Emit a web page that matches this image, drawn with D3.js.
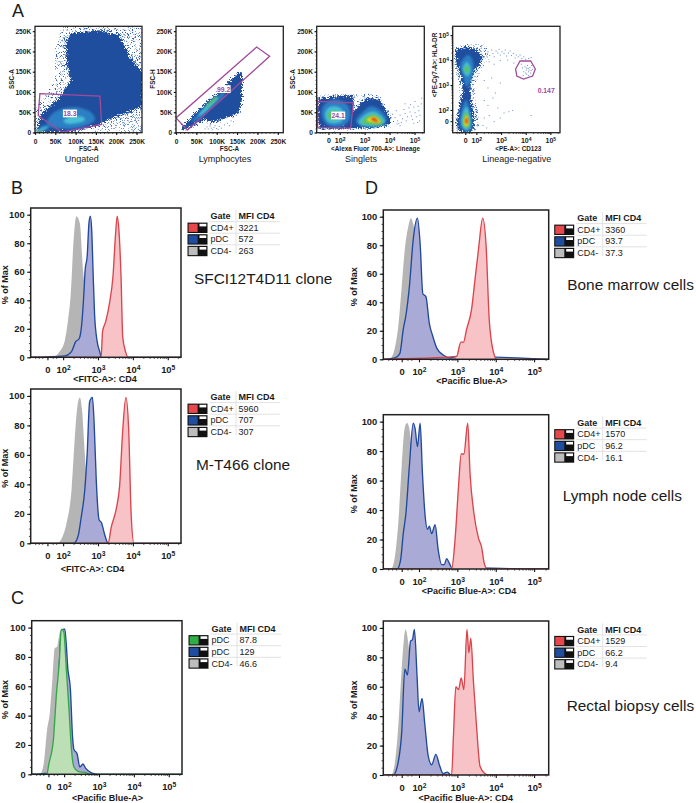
<!DOCTYPE html>
<html><head><meta charset="utf-8">
<script src="https://cdn.jsdelivr.net/npm/d3@7"></script>
<style>
html,body{margin:0;padding:0;background:#fff}
svg{display:block}
text{font-family:"Liberation Sans",Arial,sans-serif;fill:#1a1a1a}
</style></head><body><svg id="c" width="696" height="803"></svg>
<script>
// ---------- histogram data: [log10 intensity, % of max] ----------
const b1Gray=[[1.76,0],[1.90,4],[2.05,12],[2.14,26],[2.22,45],[2.30,82],[2.38,99],[2.48,94],[2.57,61],[2.67,40],[2.86,0]];
const b1Blue=[[2.05,1],[2.24,4],[2.36,11],[2.46,13],[2.54,25],[2.60,47],[2.63,61],[2.69,71],[2.74,94],[2.78,99],[2.82,89],[2.86,59],[2.90,31],[2.97,12],[3.05,4],[3.10,0]];
const b1Red=[[3.09,0],[3.13,18],[3.22,25],[3.33,38],[3.43,57],[3.50,85],[3.55,99],[3.60,89],[3.66,57],[3.71,14],[3.79,4],[3.86,0]];
const b2Gray=[[1.83,0],[1.95,3],[2.10,14],[2.24,36],[2.33,70],[2.41,93],[2.48,99],[2.54,91],[2.62,61],[2.71,30],[2.86,0]];
const b2Blue=[[2.30,0],[2.43,5],[2.52,18],[2.62,36],[2.69,61],[2.76,96],[2.84,99],[2.89,81],[2.95,43],[3.03,16],[3.10,14],[3.19,6],[3.29,0]];
const b2Red=[[3.29,0],[3.38,11],[3.52,23],[3.62,39],[3.71,77],[3.80,99],[3.88,77],[3.95,20],[4.03,0]];
const cGray=[[1.32,0],[1.42,8],[1.51,30],[1.59,42],[1.67,67],[1.73,86],[1.80,87],[1.88,97],[1.95,98],[2.07,50],[2.21,0]];
const cBlue=[[1.59,1],[1.73,21],[1.83,58],[1.92,98],[1.99,99],[2.02,99],[2.11,71],[2.18,58],[2.24,26],[2.28,17],[2.37,14],[2.45,5],[2.54,7],[2.62,4],[2.78,1],[2.97,0]];
const cGreen=[[1.50,0],[1.57,8],[1.69,23],[1.78,55],[1.86,76],[1.92,99],[1.99,97],[2.07,69],[2.14,44],[2.21,17],[2.28,5],[2.40,2],[2.64,1],[2.73,0]];
const d1Gray=[[1.24,0],[1.37,8],[1.46,23],[1.55,51],[1.63,77],[1.72,93],[1.79,99],[1.85,95],[1.92,84],[2.03,51],[2.20,0]];
const d1Blue=[[1.37,1],[1.50,4],[1.59,21],[1.66,31],[1.75,51],[1.85,84],[1.96,99],[2.03,81],[2.10,46],[2.18,44],[2.27,25],[2.35,17],[2.46,8],[2.63,3],[2.81,1],[2.98,2]];
const d1Red=[[2.98,2],[3.09,12],[3.16,12],[3.24,21],[3.37,35],[3.46,56],[3.55,77],[3.66,99],[3.75,79],[3.83,28],[3.94,5],[4.03,0]];
const d2Gray=[[1.29,0],[1.37,8],[1.46,31],[1.55,70],[1.63,96],[1.69,99],[1.75,95],[1.81,77],[1.90,31],[2.03,0]];
const d2Blue=[[1.43,0],[1.52,6],[1.59,24],[1.66,38],[1.75,70],[1.85,99],[1.90,95],[1.96,83],[2.03,99],[2.09,65],[2.16,36],[2.22,27],[2.27,29],[2.33,24],[2.42,30],[2.50,13],[2.59,3],[2.66,3],[2.72,7],[2.79,4],[2.85,1]];
const d2Red=[[2.85,0],[2.94,20],[3.03,56],[3.10,78],[3.17,78],[3.27,99],[3.33,65],[3.43,38],[3.55,21],[3.63,15],[3.70,4],[3.78,0]];
const d3Gray=[[1.29,0],[1.37,8],[1.46,33],[1.55,72],[1.65,99],[1.72,90],[1.78,72],[1.87,29],[2.03,0]];
const d3Blue=[[1.33,0],[1.46,9],[1.55,29],[1.63,72],[1.70,68],[1.78,91],[1.83,92],[1.88,99],[1.95,67],[2.00,43],[2.08,52],[2.15,35],[2.24,13],[2.33,7],[2.44,14],[2.53,7],[2.63,1],[2.74,2],[2.83,0]];
const d3Red=[[2.85,0],[2.90,28],[2.96,60],[3.03,58],[3.10,66],[3.17,58],[3.25,99],[3.30,83],[3.35,93],[3.42,63],[3.50,33],[3.59,6],[3.72,1],[3.81,0]];

// ---------- legend tables ----------
const legendHeader=["Gate","MFI CD4"];
const gatesStd=["CD4+","pDC","CD4-"];
const gatesC=["pDC","pDC","CD4-"];
const mfiB1=["3221","572","263"], mfiB2=["5960","707","307"], mfiC=["87.8","129","46.6"];
const mfiD1=["3360","93.7","37.3"], mfiD2=["1570","96.2","16.1"], mfiD3=["1529","66.2","9.4"];

// ---------- axis ticks ----------
const pctTicks=[0,20,40,60,80,100];
const pctMinor=d3.range(0,105,5);
const kTicks=[0,50,100,150,200,250];
const kMinor=d3.range(0,260,10);
const decTicks=[1.55,2,3,4,5];               // "0", 10^2 ... 10^5 in decade units
const decMinor=[1.2,1.3,1.4,1.7,1.8,2.3,2.48,2.6,2.7,2.78,2.85,2.9,2.95,3.3,3.48,3.6,3.7,3.78,3.85,3.9,3.95,4.3,4.48,4.6,4.7,4.78,4.85,4.9,4.95,5.3];

// ---------- scatter density regions ----------
// panel 1 FSC-A (K) / SSC-A (K)
const p1Halo=[[0,0],[0,57],[29,98],[49,130],[49,204],[66,262],[265,264],[265,1],[185,1],[152,11],[70,1]];
const p1LowHalo=[[120,1],[185,16],[265,50],[265,1]];
const p1Dense=[[6,2],[8,24],[16,44],[37,66],[66,93],[88,130],[78,171],[76,221],[88,245],[160,252],[208,240],[232,188],[265,150],[265,66],[225,48],[185,34],[156,17],[111,6],[70,1]];
const p1Mid=[[29,20],[45,48],[90,63],[135,52],[148,32],[119,15],[70,9]];
const p1Cyan=[[70,28],[86,38],[119,38],[123,30],[98,22],[78,22]];
const p1CornerMid=[[2,0],[20,17],[37,16],[20,3]];
const p1CornerCyan=[[6,3],[20,12],[33,14],[19,5]];
const p1CornerGreen=[[4,2],[14,7],[16,5]];
const p1Gate=[[12,96],[160,90],[164,20],[66,1],[8,42]];
// panel 2 FSC-A (K) / FSC-H (K)
const p2Dense=[[10,6],[39,39],[75,75],[125,116],[125,121],[157,151],[162,145],[162,81],[156,48],[125,36],[92,25],[67,30],[43,17],[20,6]];
const p2Mid=[[39,28],[92,78],[116,100],[119,94],[84,60],[51,30]];
const p2Cyan=[[55,42],[100,88],[103,86],[60,42]];
const p2Green=[[70,60],[100,89],[102,87],[75,62]];
const p2Gate=[[0,36],[198,211],[230,188],[28,6]];
const p2Dots=[[75,15],[78,10],[82,17],[85,12],[88,8],[92,14],[95,18],[98,11],[102,9],[105,16],[110,12],[84,20],[70,10],[118,20],[125,24],[130,18],[140,28],[134,30]];
// panel 3 lineage (decades) / SSC-A (K)
const p3Halo=[[2.55,93],[3.08,96],[3.61,91],[4.08,44],[4.21,22],[3.08,6],[2.7,12]];
const p3Left=[[1.15,85],[2.55,93],[2.57,57],[2.75,17],[2.95,11],[1.21,9],[1.11,40]];
const p3LeftHalo=[[1.09,92],[2.55,97],[2.9,40],[3.0,6],[1.12,6]];
const p3Right=[[2.68,16],[2.57,48],[2.79,71],[3.08,85],[3.55,83],[3.88,52],[4.08,30],[3.95,17],[3.21,11]];
const p3LeftMid=[[1.28,44],[1.41,71],[1.88,81],[2.35,65],[2.41,36],[2.15,17],[1.55,17]];
const p3LeftCyan=[[1.41,44],[1.55,61],[1.95,63],[2.21,44],[2.01,25],[1.55,25]];
const p3LeftGreen=[[1.51,43],[1.64,52],[1.91,52],[2.04,40],[1.85,32],[1.61,32]];
const p3RightMid=[[2.65,28],[2.88,48],[3.28,65],[3.68,52],[3.88,30],[3.61,16],[2.88,16]];
const p3RightCyan=[[2.75,25],[3.01,44],[3.35,52],[3.68,40],[3.81,25],[3.48,17],[2.95,17]];
const p3RightGreen=[[2.88,24],[3.08,39],[3.41,44],[3.68,32],[3.72,22],[3.35,19]];
const p3RightYellow=[[3.08,30],[3.28,39],[3.48,37],[3.64,25],[3.41,24]];
const p3RightRed=[[3.24,34],[3.41,36],[3.55,25],[3.35,29]];
const p3Gate=[[1.12,77],[2.55,73],[2.44,11],[1.12,12]];
const p3Dots=[[4.1,46],[4.2,38],[4.3,30],[4.25,55],[4.4,44],[4.5,35],[4.45,26],[4.55,58],[4.6,48],[4.7,40],[4.65,30],[4.75,62],[4.8,52],[4.85,42],[4.9,33],[4.82,70],[4.95,64],[5.0,50],[5.05,40],[5.0,78],[5.12,66],[5.15,55],[5.2,44],[5.18,30],[5.25,72],[5.27,86],[5.1,26],[4.35,24],[4.95,24],[4.6,72],[4.28,22],[4.4,18]];
// panel 4 CD123 (decades) / HLA-DR (decades)
const p4Halo=[[1.07,4.5],[1.6,4.65],[2.42,4.6],[2.49,4.0],[2.15,3.5],[1.95,3.0],[1.95,2.4],[2.1,1.8],[2.1,1.13],[1.2,1.13],[1.12,1.5],[1.25,2.2],[1.3,2.9],[1.12,3.7]];
const p4Dense=[[1.14,4.40],[1.61,4.53],[2.01,4.40],[2.28,4.13],[2.15,3.87],[1.88,3.53],[1.77,3.07],[1.77,2.53],[1.88,1.87],[1.91,1.27],[1.68,1.11],[1.31,1.13],[1.20,1.47],[1.31,2.13],[1.45,2.67],[1.41,3.20],[1.20,3.87]];
const p4UpMid=[[1.36,3.87],[1.68,4.2],[1.88,3.87],[1.81,3.27],[1.61,2.93],[1.45,3.4]];
const p4UpCyan=[[1.45,3.67],[1.61,3.93],[1.77,3.67],[1.68,3.36],[1.55,3.4]];
const p4UpGreen=[[1.5,3.64],[1.61,3.77],[1.72,3.63],[1.62,3.47]];
const p4LowMid=[[1.36,1.8],[1.58,2.4],[1.77,1.8],[1.81,1.27],[1.61,1.13],[1.36,1.33]];
const p4LowCyan=[[1.42,1.73],[1.59,2.13],[1.74,1.73],[1.74,1.33],[1.58,1.2],[1.42,1.4]];
const p4LowGreen=[[1.47,1.67],[1.59,1.93],[1.7,1.63],[1.7,1.36],[1.58,1.27],[1.47,1.44]];
const p4LowYellow=[[1.51,1.63],[1.61,1.8],[1.68,1.53],[1.64,1.36],[1.54,1.36]];
const p4LowRed=[[1.55,1.6],[1.61,1.71],[1.65,1.49],[1.58,1.44]];
const p4Gate=[[3.77,3.96],[4.2,3.96],[4.39,3.64],[4.28,3.36],[3.91,3.24],[3.64,3.36],[3.59,3.64]];
const p4Dots=[[2.45,4.35],[2.52,4.2],[2.6,4.42],[2.65,4.28],[2.7,4.15],[2.78,4.38],[2.85,4.3],[2.9,4.45],[2.95,4.22],[3.02,4.35],[3.1,4.28],[3.15,4.42],[3.2,4.18],[3.28,4.3],[3.35,4.38],[3.4,4.2],[3.48,4.28],[3.55,4.1],[3.6,4.22],[3.68,4.15],[3.75,4.22],[3.82,4.08],[3.9,4.15],[3.98,4.05],[4.1,4.08],[4.2,4.12],[2.5,3.95],[2.7,3.85],[2.95,4.0],[3.25,4.02],[3.5,3.9],
[3.8,3.85],[3.85,3.7],[3.9,3.55],[3.95,3.75],[4.0,3.62],[4.02,3.45],[4.05,3.8],[4.08,3.68],[4.1,3.55],[4.12,3.62],[4.15,3.72],[4.18,3.5],[4.2,3.6],[4.22,3.8],[4.25,3.65],[3.98,3.5],[4.02,3.7],[4.1,3.4],[3.88,3.4],
[2.3,3.2],[2.45,2.9],[2.6,3.3],[2.75,2.7],[2.95,3.1],[2.3,2.4],[2.45,2.2],[2.65,2.5],[2.85,2.1],[3.1,1.9],[3.3,1.95],[3.45,2.0],[2.3,1.7],[2.5,1.8],[2.7,1.55],[2.95,1.7],[4.2,1.8],[2.25,1.4],[2.4,1.3]];

// ---------- shared helpers ----------
const svg=d3.select("#c");
const PURPLE="#a04b9c", NAVY="#1f4e9e", MID="#2c7fc4", CYAN="#48c0d6", GREEN="#5cc05e", YELLOW="#ece022", RED="#e0341a";
const defs=svg.append("defs");
const sRGB={"color-interpolation-filters":"sRGB"};
function attrs(s,o){Object.entries(o).forEach(([k,v])=>s.attr(k,v));return s;}
const fRough=attrs(defs.append("filter").attr("id","rough"),{x:"-8%",y:"-8%",width:"116%",height:"116%",...sRGB});
attrs(fRough.append("feTurbulence"),{type:"fractalNoise",baseFrequency:1.3,numOctaves:2,seed:4,result:"n"});
attrs(fRough.append("feDisplacementMap"),{in:"SourceGraphic",in2:"n",scale:9,xChannelSelector:"R",yChannelSelector:"G"});
const fSoft=attrs(defs.append("filter").attr("id","soft"),{x:"-30%",y:"-30%",width:"160%",height:"160%",...sRGB});
attrs(fSoft.append("feGaussianBlur"),{stdDeviation:1.1});
const fSpeck=attrs(defs.append("filter").attr("id","speck"),{x:"-5%",y:"-5%",width:"110%",height:"110%",...sRGB});
attrs(fSpeck.append("feTurbulence"),{type:"fractalNoise",baseFrequency:1.25,numOctaves:2,seed:9,result:"n"});
attrs(fSpeck.append("feColorMatrix"),{in:"n",type:"matrix",values:"0 0 0 0 0  0 0 0 0 0  0 0 0 0 0  7 0 0 0 -3.9",result:"m"});
attrs(fSpeck.append("feComposite"),{in:"SourceGraphic",in2:"m",operator:"in"});

const supMap={2:"2",3:"3",4:"4",5:"5"};
function decFmt(sel){
  sel.selectAll(".tick text").each(function(d){
    const t=d3.select(this); t.text("");
    if(d===decTicks[0]){t.text("0");return;}
    t.append("tspan").text("10");
    t.append("tspan").attr("dy","-0.42em").attr("font-size","72%").text(supMap[d]);
  });
}
let clipN=0;
function frame(g,w,h){
  const id="clip"+(clipN++);
  defs.append("clipPath").attr("id",id).append("rect").attr("width",w).attr("height",h);
  return id;
}
function axis(g,gen,major,minor,{fs,tl,ml,pad,bottom,h,fmt,kf}){
  const mn=g.append("g"), mj=g.append("g");
  if(bottom){mn.attr("transform",`translate(0,${h})`);mj.attr("transform",`translate(0,${h})`);}
  mn.call(gen().tickValues(minor).tickSize(ml).tickFormat(""));
  const a=gen().tickValues(major).tickSize(tl).tickPadding(pad);
  if(kf) a.tickFormat(kf);
  mj.call(a);
  mn.select(".domain").remove(); mj.select(".domain").remove();
  mn.selectAll("line").attr("stroke","#222").attr("stroke-width",.8);
  mj.selectAll("line").attr("stroke","#111").attr("stroke-width",1.1);
  mj.selectAll("text").attr("font-size",fs).attr("font-weight","bold").attr("font-family",'"Liberation Sans"').attr("fill","#1a1a1a");
  if(fmt) fmt(mj);
}

// ---------- histogram panels ----------
const xDom=[1.07,5.38], yDom=[0,104.7];
const area=(x,y)=>d3.area().x(d=>x(d[0])).y0(y(0)).y1(d=>y(d[1])).curve(d3.curveMonotoneX);
const line=(x,y)=>d3.line().x(d=>x(d[0])).y(d=>y(d[1])).curve(d3.curveMonotoneX);
function hist(cfg){
  const {l,r,t,b,series,xlabel,xlx,xly,ylx}=cfg;
  const w=r-l,h=b-t;
  const x=d3.scaleLinear().domain(xDom).range([0,w]);
  const y=d3.scaleLinear().domain(yDom).range([h,0]);
  const g=svg.append("g").attr("transform",`translate(${l},${t})`);
  const id=frame(g,w,h);
  const pg=g.append("g").attr("clip-path",`url(#${id})`);
  series.forEach(s=>{
    pg.append("path").datum(s.data).attr("d",area(x,y)).attr("fill",s.fill);
    if(s.stroke){
      const full=[[xDom[0],0],...s.data,[xDom[1],0]];
      pg.append("path").datum(full).attr("d",line(x,y)).attr("fill","none").attr("stroke",s.stroke).attr("stroke-width",1.35);
    }
  });
  g.append("rect").attr("width",w).attr("height",h).attr("fill","none").attr("stroke","#222").attr("stroke-width",1.5);
  axis(g,()=>d3.axisLeft(y),pctTicks,pctMinor,{fs:9.4,tl:3.5,ml:1.8,pad:2.5});
  axis(g,()=>d3.axisBottom(x),decTicks,decMinor,{fs:9.4,tl:3,ml:1.6,pad:6,bottom:true,h,fmt:decFmt});
  svg.append("text").attr("x",xlx).attr("y",xly).attr("text-anchor","middle").attr("font-size",9).attr("font-weight","bold").text(xlabel);
  svg.append("text").attr("transform",`translate(${ylx},${(t+b)/2+2}) rotate(-90)`).attr("text-anchor","middle").attr("font-size",9).attr("font-weight","bold").text("% of Max");
}
const GRAY={fill:"#b5b5b5"};
const BLUE={fill:"#aaaad6",stroke:"#20499b"};
const REDS={fill:"#f8c3c6",stroke:"#d9454c"};
const GRN={fill:"#bcdfb6",stroke:"#35a648"};
hist({l:30.7,r:181,t:208,b:357.3,xlabel:"<FITC-A>: CD4",xlx:105,xly:382,ylx:8,series:[{...GRAY,data:b1Gray},{...BLUE,data:b1Blue},{...REDS,data:b1Red}]});
hist({l:30.7,r:181,t:389,b:543.3,xlabel:"<FITC-A>: CD4",xlx:92.5,xly:572,ylx:8,series:[{...GRAY,data:b2Gray},{...BLUE,data:b2Blue},{...REDS,data:b2Red}]});
hist({l:31.7,r:182,t:620.7,b:774.3,xlabel:"<Pacific Blue-A>",xlx:107.5,xly:801,ylx:8,series:[{...GRAY,data:cGray},{...BLUE,data:cBlue},{...GRN,data:cGreen}]});
hist({l:383.3,r:548.7,t:210,b:359.3,xlabel:"<Pacific Blue-A>",xlx:471.7,xly:384,ylx:357,series:[{...GRAY,data:d1Gray},{...BLUE,data:d1Blue},{...REDS,data:d1Red}]});
hist({l:383.3,r:548.7,t:414.7,b:569,xlabel:"<Pacific Blue-A>: CD4",xlx:469,xly:594,ylx:357,series:[{...GRAY,data:d2Gray},{...BLUE,data:d2Blue},{...REDS,data:d2Red}]});
hist({l:383.3,r:548.7,t:621,b:775,xlabel:"<Pacific Blue-A>: CD4",xlx:465.7,xly:801,ylx:357,series:[{...GRAY,data:d3Gray},{...BLUE,data:d3Blue},{...REDS,data:d3Red}]});

// ---------- legends ----------
function legend(x,y,gates,mfi,colors){
  const g=svg.append("g").attr("transform",`translate(${x},${y})`);
  const col1=23.5,col2=51.5,lineEnd=93,step=11.6;
  g.append("line").attr("x1",col2-2.5).attr("x2",col2-2.5).attr("y1",-6).attr("y2",38).attr("stroke","#e2e2e2");
  g.append("text").attr("x",col1).attr("y",3.3).attr("font-size",9).attr("font-weight","bold").text(legendHeader[0]);
  g.append("text").attr("x",col2).attr("y",3.3).attr("font-size",9).attr("font-weight","bold").text(legendHeader[1]);
  gates.forEach((gate,i)=>{
    const cy=(i+1)*step;
    g.append("line").attr("x1",col1-1).attr("x2",lineEnd).attr("y1",cy-6).attr("y2",cy-6).attr("stroke","#e2e2e2");
    g.append("rect").attr("x",.5).attr("y",cy-5).attr("width",20).attr("height",10.4).attr("fill","#111");
    g.append("rect").attr("x",1.6).attr("y",cy-3.9).attr("width",9).attr("height",8.2).attr("fill",colors[i]);
    g.append("rect").attr("x",12.5).attr("y",cy-3.8).attr("width",6.8).attr("height",2.6).attr("fill","#fff");
    g.append("text").attr("x",col1).attr("y",cy+3.2).attr("font-size",9).attr("fill","#333").text(gate);
    g.append("text").attr("x",col2).attr("y",cy+3.2).attr("font-size",9).attr("fill","#333").text(mfi[i]);
  });
}
const cStd=["#e8474c","#1f4ea0","#bdbdbd"], cC=["#2fae46","#1f4ea0","#bdbdbd"];
legend(187,216,gatesStd,mfiB1,cStd);
legend(187,397,gatesStd,mfiB2,cStd);
legend(188,628.5,gatesC,mfiC,cC);
legend(553.7,218,gatesStd,mfiD1,cStd);
legend(553.7,422.5,gatesStd,mfiD2,cStd);
legend(553.7,629.3,gatesStd,mfiD3,cStd);

// ---------- scatter panels ----------
function scatter(cfg){
  const {l,r,t,b,xs,ys,layers,gate,label,labelPos,dots,xTitle,xtX,ylab,ylabX,ylabY,title,titleX,xIsK,yIsK}=cfg;
  const w=r-l,h=b-t;
  const x=d3.scaleLinear().domain(xs).range([0,w]);
  const y=d3.scaleLinear().domain(ys).range([h,0]);
  const g=svg.append("g").attr("transform",`translate(${l},${t})`);
  const id=frame(g,w,h);
  const pg=g.append("g").attr("clip-path",`url(#${id})`);
  const pl=d3.line().x(d=>x(d[0])).y(d=>y(d[1])).curve(d3.curveLinearClosed);
  const pr=d3.line().x(d=>x(d[0])).y(d=>y(d[1])).curve(d3.curveCatmullRomClosed);
  layers.forEach(a=>{
    const p=pg.append("path").datum(a.data).attr("d",a.kind==="speck"||a.kind==="rough"?pl:pr).attr("fill",a.color);
    if(a.kind==="speck") p.attr("filter","url(#speck)");
    else if(a.kind==="rough") p.attr("filter","url(#rough)");
    else p.attr("filter","url(#soft)");
  });
  if(dots) pg.selectAll("rect.d").data(dots).join("rect").attr("class","d").attr("x",d=>x(d[0])).attr("y",d=>y(d[1])).attr("width",1).attr("height",1).attr("fill","#6b8cc4");
  pg.append("path").datum(gate).attr("d",pl).attr("fill","none").attr("stroke",PURPLE).attr("stroke-width",1.3);
  g.append("rect").attr("width",w).attr("height",h).attr("fill","none").attr("stroke","#222").attr("stroke-width",1.3);
  const kf=d=>d===0?"0":d+"K";
  if(yIsK) axis(g,()=>d3.axisLeft(y),kTicks,kMinor,{fs:6.6,tl:2.2,ml:1.2,pad:1.6,kf});
  else axis(g,()=>d3.axisLeft(y),decTicks,decMinor,{fs:6.8,tl:2.2,ml:1.2,pad:1.6,fmt:decFmt});
  if(xIsK) axis(g,()=>d3.axisBottom(x),kTicks,kMinor,{fs:6.6,tl:2.2,ml:1.2,pad:4.5,bottom:true,h,kf});
  else axis(g,()=>d3.axisBottom(x),decTicks,decMinor,{fs:7,tl:2.2,ml:1.2,pad:3.5,bottom:true,h,fmt:decFmt});
  if(label){
    const boxed=labelPos[2]!==false;
    const tx=x(labelPos[0]),ty=y(labelPos[1]);
    if(boxed) g.append("rect").attr("x",tx-7).attr("y",ty-3.9).attr("width",14).attr("height",7.8).attr("fill","#fff");
    g.append("text").attr("x",tx).attr("y",ty+2.4).attr("text-anchor","middle").attr("font-size",6.8).attr("font-weight","bold").style("fill",PURPLE).text(label);
  }
  svg.append("text").attr("x",xtX).attr("y",151.3).attr("text-anchor","middle").attr("font-size",6.35).attr("font-weight","bold").text(xTitle);
  svg.append("text").attr("transform",`translate(${ylabX},${ylabY}) rotate(-90)`).attr("text-anchor","middle").attr("font-size",6.35).attr("font-weight","bold").text(ylab);
  svg.append("text").attr("x",titleX).attr("y",162).attr("text-anchor","middle").attr("font-size",9).attr("fill","#333").text(title);
}
const kX=[0,263.5], kY=[-0.5,262];
scatter({l:35,r:142,t:26.3,b:132.7,xs:kX,ys:kY,xIsK:true,yIsK:true,
 layers:[{data:p1Halo,color:"#2f62ae",kind:"speck"},{data:p1LowHalo,color:"#6f93c8",kind:"speck"},{data:p1Dense,color:NAVY,kind:"rough"},
 {data:p1Mid,color:MID},{data:p1Cyan,color:CYAN},{data:p1CornerMid,color:MID},{data:p1CornerCyan,color:CYAN},{data:p1CornerGreen,color:"#a0cc40"}],
 gate:p1Gate,label:"18.3",labelPos:[86,47],xTitle:"FSC-A",xtX:88.7,ylab:"SSC-A",ylabX:13.5,ylabY:79,title:"Ungated",titleX:81.7});
scatter({l:176,r:283.3,t:26.3,b:132.7,xs:kX,ys:kY,xIsK:true,yIsK:true,
 layers:[{data:p2Dense,color:NAVY,kind:"rough"},{data:p2Mid,color:MID},{data:p2Cyan,color:CYAN},{data:p2Green,color:GREEN}],
 gate:p2Gate,label:"99.2",labelPos:[117,107],dots:p2Dots,xTitle:"FSC-A",xtX:229.5,ylab:"FSC-H",ylabX:154.5,ylabY:79,title:"Lymphocytes",titleX:225});
scatter({l:316.7,r:424.3,t:26.3,b:132.7,xs:[1.08,5.39],ys:kY,yIsK:true,
 layers:[{data:p3LeftHalo,color:"#3f6fb6",kind:"speck"},{data:p3Halo,color:"#3f6fb6",kind:"speck"},{data:p3Left,color:NAVY,kind:"rough"},{data:p3Right,color:NAVY,kind:"rough"},
 {data:p3LeftMid,color:MID},{data:p3LeftCyan,color:CYAN},{data:p3LeftGreen,color:GREEN},
 {data:p3RightMid,color:MID},{data:p3RightCyan,color:CYAN},{data:p3RightGreen,color:GREEN},{data:p3RightYellow,color:YELLOW},{data:p3RightRed,color:RED}],
 gate:p3Gate,label:"24.1",labelPos:[1.94,42],dots:p3Dots,xTitle:"<Alexa Fluor 700-A>: Lineage",xtX:375.5,ylab:"SSC-A",ylabX:295,ylabY:79,title:"Singlets",titleX:361});
scatter({l:452.7,r:560,t:26.3,b:132.7,xs:[1.04,5.39],ys:[1.09,5.35],
 layers:[{data:p4Halo,color:"#3f6fb6",kind:"speck"},{data:p4Dense,color:NAVY,kind:"rough"},{data:p4UpMid,color:MID},{data:p4UpCyan,color:CYAN},{data:p4UpGreen,color:GREEN},
 {data:p4LowMid,color:MID},{data:p4LowCyan,color:CYAN},{data:p4LowGreen,color:GREEN},{data:p4LowYellow,color:YELLOW},{data:p4LowRed,color:RED}],
 gate:p4Gate,label:"0.147",labelPos:[4.83,2.79,false],dots:p4Dots,xTitle:"<PE-A>: CD123",xtX:518.3,ylab:"<PE-Cy7-A>: HLA-DR",ylabX:436.5,ylabY:65,title:"Lineage-negative",titleX:516.8});

// ---------- panel letters and captions ----------
[["A",12,16.5],["B",11,194],["C",11,604],["D",365,194]].forEach(d=>svg.append("text").attr("x",d[1]).attr("y",d[2]).attr("font-size",18).text(d[0]));
[["SFCI12T4D11 clone",194,284],["M-T466 clone",196,469.5],["Bone marrow cells",567.3,289.5],["Lymph node cells",562.7,500.5],["Rectal biopsy cells",566.7,711]].forEach(d=>svg.append("text").attr("x",d[1]).attr("y",d[2]).attr("font-size",15.4).attr("fill","#333").text(d[0]));
</script></body></html>
